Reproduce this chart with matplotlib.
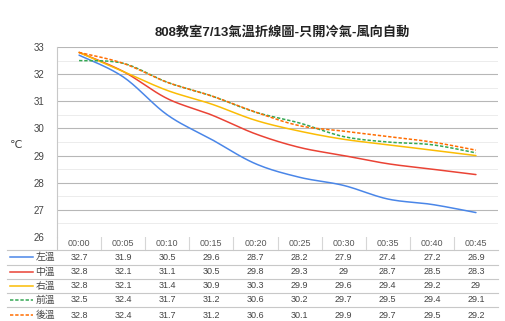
import numpy as np
import matplotlib
matplotlib.use("Agg")
import matplotlib.pyplot as plt
from matplotlib.lines import Line2D

plt.rcParams['font.family'] = ['Liberation Sans', 'Noto Sans CJK TC', 'DejaVu Sans']

title = "808教室7/13氣溫折線圖-只開冷氣-風向自動"
times = ["00:00", "00:05", "00:10", "00:15", "00:20",
         "00:25", "00:30", "00:35", "00:40", "00:45"]
names = ["左溫", "中溫", "右溫", "前溫", "後溫"]
left_t = [32.7, 31.9, 30.5, 29.6, 28.7, 28.2, 27.9, 27.4, 27.2, 26.9]
mid_t = [32.8, 32.1, 31.1, 30.5, 29.8, 29.3, 29, 28.7, 28.5, 28.3]
right_t = [32.8, 32.1, 31.4, 30.9, 30.3, 29.9, 29.6, 29.4, 29.2, 29]
front_t = [32.5, 32.4, 31.7, 31.2, 30.6, 30.2, 29.7, 29.5, 29.4, 29.1]
back_t = [32.8, 32.4, 31.7, 31.2, 30.6, 30.1, 29.9, 29.7, 29.5, 29.2]
series = [left_t, mid_t, right_t, front_t, back_t]

colors = ["#4a86e8", "#ea4335", "#fbbc04", "#34a853", "#ff6d01"]
styles = ["-", "-", "-", (0, (2.2, 1.2)), (0, (2.2, 1.2))]

W, H = 505, 321
fig = plt.figure(figsize=(W / 100, H / 100), dpi=100)

# plot area in pixel units
L, R, T, B = 57, 498, 47, 237
ax = fig.add_axes([L / W, 1 - B / H, (R - L) / W, (B - T) / H])


def smooth(xs, ys, n=20):
    """Catmull-Rom style bezier smoothing through the points."""
    xs = np.asarray(xs, float)
    ys = np.asarray(ys, float)
    px = np.concatenate([[xs[0]], xs, [xs[-1]]])
    py = np.concatenate([[ys[0]], ys, [ys[-1]]])
    ox, oy = [], []
    t = np.linspace(0, 1, n)[:, None]
    for i in range(1, len(px) - 2):
        p0 = np.array([px[i], py[i]])
        p3 = np.array([px[i + 1], py[i + 1]])
        c1 = p0 + (np.array([px[i + 1], py[i + 1]]) - np.array([px[i - 1], py[i - 1]])) / 6
        c2 = p3 - (np.array([px[i + 2], py[i + 2]]) - np.array([px[i], py[i]])) / 6
        pts = ((1 - t) ** 3 * p0 + 3 * (1 - t) ** 2 * t * c1
               + 3 * (1 - t) * t ** 2 * c2 + t ** 3 * p3)
        ox.extend(pts[:, 0])
        oy.extend(pts[:, 1])
    return np.array(ox), np.array(oy)


x = np.arange(len(times))
for vals, c, ls in zip(series, colors, styles):
    sx, sy = smooth(x, vals)
    ax.plot(sx, sy, color=c, lw=1.1, ls=ls, solid_capstyle='round')

ax.set_xlim(-0.5, len(times) - 0.5)
ax.set_ylim(26, 33)
for v in np.arange(27, 33.01, 1):
    ax.axhline(v, color="#b7b7b7", lw=0.8, zorder=0)
for v in np.arange(26.5, 33, 1):
    ax.axhline(v, color="#ececec", lw=0.7, zorder=0)
ax.set_yticks(np.arange(26, 34, 1))
ax.set_yticklabels([str(int(v)) for v in np.arange(26, 34, 1)], fontsize=7, color="#444444")
ax.tick_params(axis='y', length=0, pad=9)
ax.set_xticks([])
for s in ["top", "right", "bottom"]:
    ax.spines[s].set_visible(False)
ax.spines["left"].set_color("#c8c8c8")
ax.spines["left"].set_linewidth(0.8)

# overlay in pixel coordinates for title and data table
ov = fig.add_axes([0, 0, 1, 1], zorder=-1)
ov.set_xlim(0, W)
ov.set_ylim(H, 0)
ov.axis("off")

ov.text(282, 32, title, ha="center", va="center", fontsize=9.5, fontweight="bold",
        color="#222222")
ov.text(16, 145, "℃", ha="center", va="center", fontsize=8, color="#444444",
        family=['DejaVu Sans'])

colw = (R - L) / len(times)
# vertical separators in the header row
ov.plot([L, L], [B, 250], color="#c8c8c8", lw=0.8)
for k in range(1, len(times)):
    xx = L + k * colw
    ov.plot([xx, xx], [B, 250], color="#d6d6d6", lw=0.8)
for k, tlab in enumerate(times):
    ov.text(L + (k + 0.5) * colw, 243, tlab, ha="center", va="center",
            fontsize=6.5, color="#555555")

row_lines = [250, 264.5, 279, 293, 307]
for yy in row_lines:
    ov.plot([7, R], [yy, yy], color="#c8c8c8", lw=0.8)

row_y = [257, 272, 286, 300, 315]
for name, vals, c, ls, yy in zip(names, series, colors, styles, row_y):
    ov.add_line(Line2D([10, 33], [yy, yy], color=c, lw=1.1, ls=ls))
    ov.text(55, yy, name, ha="right", va="center", fontsize=7, color="#444444")
    for k, v in enumerate(vals):
        ov.text(L + (k + 0.5) * colw, yy, f"{v:g}", ha="center", va="center",
                fontsize=6.5, color="#444444")

fig.savefig("out.png", dpi=100, facecolor="white")
